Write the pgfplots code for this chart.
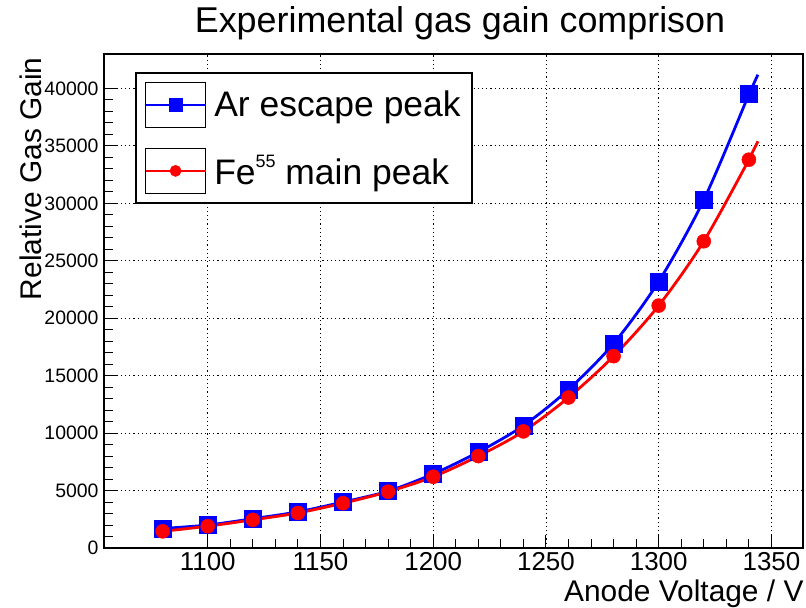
\documentclass[border=0pt]{standalone}
\usepackage{pgfplots}
\pgfplotsset{compat=1.18}
\usepackage{fontspec}
\setmainfont{Liberation Sans}
\pgfplotstableread{
V     gain
1080  1700
1100  2000
1120  2550
1140  3150
1160  4000
1180  4950
1200  6450
1220  8350
1240  10650
1260  13800
1280  17800
1300  23200
1320  30300
1340  39500
}\arpeak
\pgfplotstableread{
V     gain
1080  1450
1100  1900
1120  2450
1140  3050
1160  3900
1180  4900
1200  6200
1220  8000
1240  10150
1260  13100
1280  16700
1300  21100
1320  26700
1340  33800
}\fepeak
\begin{document}
\begin{tikzpicture}
\useasboundingbox (0,0) rectangle (806bp,608bp);
\node[font=\fontsize{36}{42}\selectfont] at (460bp,585bp) {Experimental gas gain comprison};
\begin{axis}[
  at={(104bp,60bp)}, anchor=south west,
  scale only axis, width=699bp, height=494bp,
  xmin=1054, xmax=1364, ymin=0, ymax=43000,
  xtick={1100,1150,...,1350}, ytick={0,5000,...,40000},
  minor x tick num=4, minor y tick num=4,
  tick align=inside, tick pos=left,
  major tick length=13bp, minor tick length=9bp,
  every tick/.style={black, line width=1bp},
  grid=major,
  major grid style={black, line width=0.9bp, dash pattern=on 1.2bp off 3bp},
  axis line style={line width=1.2bp},
  scaled y ticks=false,
  /pgf/number format/1000 sep={},
  /pgf/number format/assume math mode=true,
  xticklabel style={font=\fontsize{26}{30}\selectfont, yshift=-1bp},
  yticklabel style={font=\fontsize{19.5}{22}\selectfont, xshift=-2bp},
  xlabel={Anode Voltage / V},
  ylabel={Relative Gas Gain},
  xlabel style={font=\fontsize{30}{34}\selectfont, at={(axis description cs:1,0)}, anchor=base east, yshift=-53bp, xshift=4bp},
  ylabel style={font=\fontsize{30}{34}\selectfont, at={(axis description cs:-0.0887,1)}, anchor=base east},
  legend image code/.code={
    \draw[black, line width=1bp] (0bp,-22.5bp) rectangle (60bp,22.5bp);
    \draw[mark repeat=2,mark phase=2,#1, line width=1.4bp, every mark/.append style={scale=0.8}] plot coordinates {(0bp,0bp) (30bp,0bp) (60bp,0bp)};
  },
  legend style={at={(rel axis cs:0.0443,0.9636)}, anchor=north west,
    draw=black, line width=1.8bp, inner sep=9bp,
    font=\fontsize{35.6}{40}\selectfont,
    row sep=20bp, column sep=6bp,
    nodes={inner sep=2bp, anchor=west}},
  legend cell align=left,
]
\addplot[blue, line width=2.8bp, smooth, mark=square*, mark size=8.5bp, mark options={solid, line width=0.5bp}] table[x=V, y=gain] {\arpeak};
\addlegendentry{Ar escape peak}
\addplot[red, line width=2.8bp, smooth, mark=*, mark size=7bp, mark options={solid, line width=0.5bp}] table[x=V, y=gain] {\fepeak};
\addlegendentry{Fe\raisebox{17bp}{\fontsize{18}{18}\selectfont 55} main peak}
\addplot[blue, line width=2.8bp, forget plot] coordinates {(1340,39500) (1344,41200)};
\addplot[red, line width=2.8bp, forget plot] coordinates {(1340,33800) (1344,35400)};
\end{axis}
\end{tikzpicture}
\end{document}
